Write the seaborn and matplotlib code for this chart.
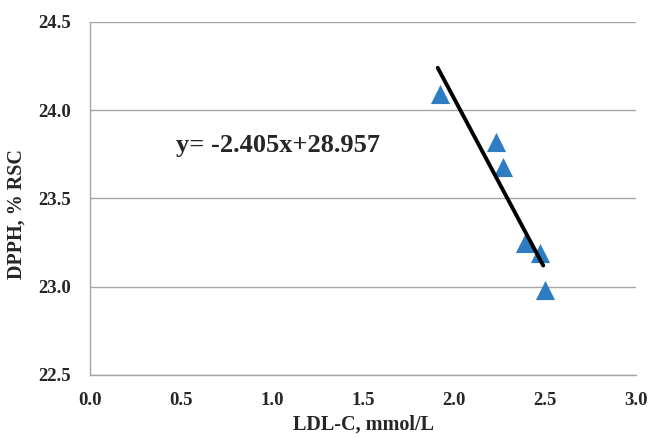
import matplotlib
matplotlib.use("Agg")
import matplotlib.pyplot as plt
import seaborn as sns
import pandas as pd

ldl = [1.92, 2.23, 2.27, 2.39, 2.47, 2.50]
dpph = [24.09, 23.82, 23.68, 23.25, 23.19, 22.98]
trend_x = [1.91, 2.49]
trend_y = [24.24, 23.12]
x_ticks = [0.0, 0.5, 1.0, 1.5, 2.0, 2.5, 3.0]
y_ticks = [22.5, 23.0, 23.5, 24.0, 24.5]
equation = "y= -2.405x+28.957"

sns.set_theme(style="white")
plt.rcParams['font.family'] = ['Liberation Serif', 'DejaVu Serif']

fig = plt.figure(figsize=(6.49, 4.38), dpi=100)
ax = fig.add_axes([0.139, 0.144, 0.841, 0.806])

df = pd.DataFrame({"x": ldl, "y": dpph})
sns.scatterplot(data=df, x="x", y="y", marker="^", s=190, color="#2E7DC2",
                edgecolor="#2E7DC2", linewidth=0, ax=ax, zorder=3)
tdf = pd.DataFrame({"x": trend_x, "y": trend_y})
sns.lineplot(data=tdf, x="x", y="y", color="black", linewidth=2.8, ax=ax, zorder=4)

ax.set_xlim(0, 3.0)
ax.set_ylim(22.5, 24.5)
ax.set_xticks(x_ticks)
ax.set_yticks(y_ticks)
ax.set_xticklabels([f"{v:.1f}" for v in x_ticks], fontweight="bold", fontsize=13.5)
ax.set_yticklabels([f"{v:.1f}" for v in y_ticks], fontweight="bold", fontsize=13.5)
ax.yaxis.grid(True, color="#A6A6A6", linewidth=1)
ax.xaxis.grid(False)
ax.set_axisbelow(True)
for s in ["top", "right"]:
    ax.spines[s].set_visible(False)
for s in ["left", "bottom"]:
    ax.spines[s].set_color("#A6A6A6")
    ax.spines[s].set_linewidth(1)
ax.tick_params(axis="both", length=0)
ax.tick_params(axis="y", pad=14)
ax.tick_params(axis="x", pad=12)
ax.set_xlabel("LDL-C, mmol/L", fontweight="bold", fontsize=14.5, labelpad=4)
ax.set_ylabel("DPPH, % RSC", fontweight="bold", fontsize=14.5)
ax.yaxis.set_label_coords(-0.117, 0.455)
ax.text(0.47, 23.80, equation, fontsize=19, fontweight="bold", va="center", ha="left")

fig.savefig("out.png", dpi=100)
